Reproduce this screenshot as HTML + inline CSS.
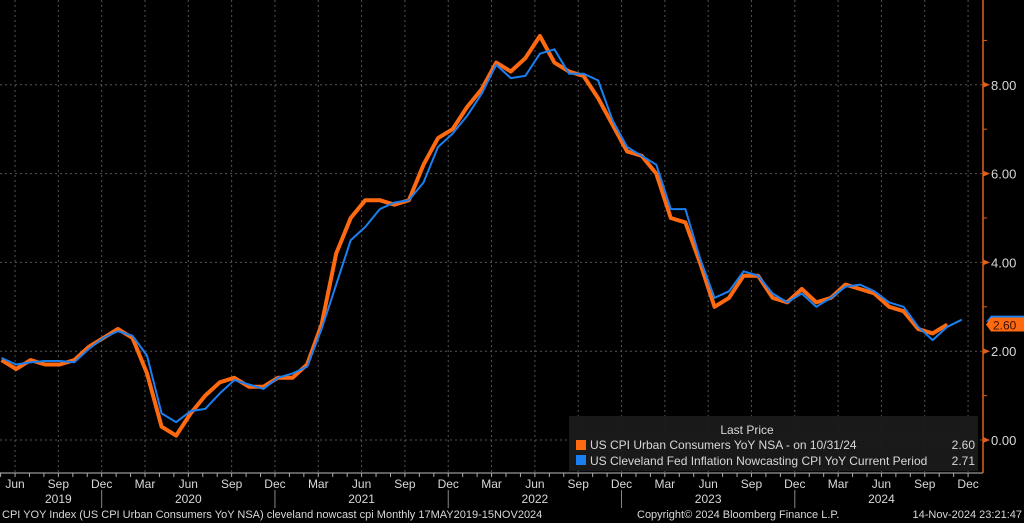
<!DOCTYPE html>
<html><head><meta charset="utf-8"><style>
html,body{margin:0;padding:0;background:#000;width:1024px;height:523px;overflow:hidden}
svg text{font-family:"Liberation Sans",sans-serif;fill:#d8d8d8}
</style></head><body>
<svg id="c" width="1024" height="523" xmlns="http://www.w3.org/2000/svg">
<rect width="1024" height="523" fill="#000"/>
<g id="grid"></g>
<g id="series"></g>
<g id="axes"></g>
<g>
<rect x="569" y="416" width="409" height="55" fill="#1b1b1b" fill-opacity="0.92"/>
<text x="747" y="434" font-size="12" text-anchor="middle">Last Price</text>
<rect x="576" y="440" width="10" height="10" fill="#ff6a10"/>
<text x="590" y="449" font-size="12">US CPI Urban Consumers YoY NSA -  on 10/31/24</text>
<text x="975" y="449" font-size="12" text-anchor="end">2.60</text>
<rect x="576" y="455" width="10" height="10" fill="#1a7ff0"/>
<text x="590" y="465" font-size="12">US Cleveland Fed Inflation Nowcasting CPI YoY Current Period</text>
<text x="975" y="465" font-size="12" text-anchor="end">2.71</text>
</g>
<text x="2" y="518" font-size="11">CPI YOY Index (US CPI Urban Consumers YoY NSA) cleveland nowcast cpi  Monthly 17MAY2019-15NOV2024</text>
<text x="637" y="518" font-size="11">Copyright© 2024 Bloomberg Finance L.P.</text>
<text x="1022" y="518" font-size="11" text-anchor="end">14-Nov-2024 23:21:47</text>
</svg>
<script>
const cpiValues=[1.8,1.6,1.8,1.7,1.7,1.8,2.1,2.3,2.5,2.3,1.5,0.3,0.1,0.6,1.0,1.3,1.4,1.2,1.2,1.4,1.4,1.7,2.6,4.2,5.0,5.4,5.4,5.3,5.4,6.2,6.8,7.0,7.5,7.9,8.5,8.3,8.6,9.1,8.5,8.3,8.2,7.7,7.1,6.5,6.4,6.0,5.0,4.9,4.0,3.0,3.2,3.7,3.7,3.2,3.1,3.4,3.1,3.2,3.5,3.4,3.3,3.0,2.9,2.5,2.4,2.6];
const nowcastValues=[1.85,1.7,1.75,1.78,1.78,1.75,2.05,2.3,2.45,2.35,1.9,0.6,0.4,0.65,0.7,1.05,1.35,1.25,1.15,1.4,1.5,1.65,2.5,3.5,4.5,4.8,5.2,5.35,5.4,5.8,6.6,6.9,7.3,7.8,8.45,8.15,8.2,8.7,8.8,8.25,8.25,8.1,7.2,6.6,6.4,6.2,5.2,5.2,4.1,3.2,3.35,3.8,3.7,3.3,3.1,3.3,3.0,3.2,3.45,3.5,3.35,3.1,3.0,2.55,2.25,2.55,2.71];
const monthLabels=["Jun","Sep","Dec","Mar"];
const yearLabels=["2019","2020","2021","2022","2023","2024"];
const yTicks=[0,2,4,6,8];
const NS="http://www.w3.org/2000/svg";
function x(i){return 1.5+14.55*i;} // data: i=0 -> May 2019
function lx(i){return 0.6+14.44*i;} // axis labels
function y(v){return 440-44.4*v;}
function mk(tag,attrs,parent){const e=document.createElementNS(NS,tag);for(const k in attrs)e.setAttribute(k,attrs[k]);parent.appendChild(e);return e;}
const grid=document.getElementById('grid'),axes=document.getElementById('axes'),series=document.getElementById('series');
yTicks.forEach(v=>{
  const l=mk('line',{x1:0,x2:983,y1:y(v),y2:y(v),stroke:'#555','stroke-dasharray':'2,3','stroke-width':1},grid);
  
  
  const t=mk('polygon',{points:`983,${y(v)-3} 990,${y(v)} 983,${y(v)+3}`,fill:'#e0601a'},axes);
  
  
  const tx=mk('text',{x:991,y:y(v)+5,'font-size':13},axes);tx.textContent=v.toFixed(2);
  
  
});
for(let v=1;v<=9;v+=2){const m=mk('line',{x1:983,x2:987,y1:y(v),y2:y(v),stroke:'#e0601a'},axes);
  
  }
let q=0;
for(let i=1;i<=67;i+=3){
  const xx=lx(i);
  const g=mk('line',{x1:xx,x2:xx,y1:0,y2:473,stroke:'#555','stroke-dasharray':'2,3'},grid);
  
  
  const t=mk('text',{x:xx,y:488,'font-size':12,'text-anchor':'middle'},axes);t.textContent=monthLabels[q%4];
  
  
  q++;
}
for(let i=0;i<=67;i++){const tk=mk('line',{x1:lx(i),x2:lx(i),y1:473,y2:477,stroke:'#aaa'},axes);
  
  }
yearLabels.forEach((yr,k)=>{
  const cx=k==0?lx(4):lx(k*12+1);
  const t=mk('text',{x:cx,y:503,'font-size':12,'text-anchor':'middle'},axes);t.textContent=yr;
  
  
  if(k<5){
    const s=mk('line',{x1:lx(k*12+7),x2:lx(k*12+7),y1:490,y2:508,stroke:'#888'},axes);
    
    
  }
});
const ax=mk('line',{x1:0,x2:983,y1:473,y2:473,stroke:'#bbb'},axes);


const ay=mk('line',{x1:983,x2:983,y1:0,y2:473,stroke:'#e0601a','stroke-width':1.5},axes);


function path(vals,color,w,name){
  const d=vals.map((v,i)=>(i?'L':'M')+x(i).toFixed(1)+','+y(v).toFixed(1)).join(' ');
  const p=mk('path',{d:d,fill:'none',stroke:color,'stroke-width':w,'stroke-linejoin':'round'},series);
  
  
}
path(cpiValues,'#ff6a10',4,'cpi-line');
path(nowcastValues,'#1a7ff0',2,'nowcast-line');
const lb=nowcastValues[nowcastValues.length-1], lc=cpiValues[cpiValues.length-1];
const tb=mk('polygon',{points:`986,${y(lb)+2} 991,${y(lb)-4} 1024,${y(lb)-4} 1024,${y(lb)+2}`,fill:'#1a7ff0'},axes);


const tc=mk('polygon',{points:`986,${y(lc)} 991,${y(lc)-7} 1024,${y(lc)-7} 1024,${y(lc)+7} 991,${y(lc)+7}`,fill:'#ff6a10'},axes);


const tt=mk('text',{x:993,y:y(lc)+5,'font-size':12,style:'fill:#3a1000'},axes);tt.textContent=lc.toFixed(2);


</script>
</body></html>
